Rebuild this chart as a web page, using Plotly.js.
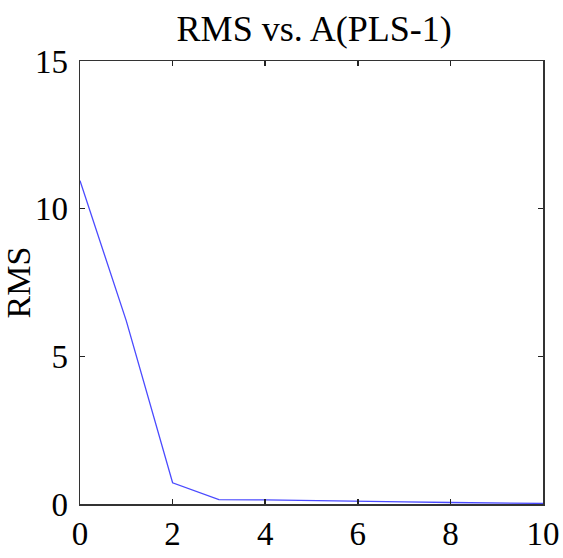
<!DOCTYPE html>
<html>
<head>
<meta charset="utf-8">
<script src="https://cdn.plot.ly/plotly-3.0.1.min.js"></script>
<style>body{margin:0;background:#fff;}</style>
</head>
<body>
<div id="chart" style="width:563px;height:558px;"></div>
<script>
// number of latent variables A vs RMS error
var comps = [0, 1, 2, 3, 4, 5, 6, 7, 8, 9, 10];
var rms = [10.95, 6.2, 0.72, 0.15, 0.14, 0.11, 0.09, 0.07, 0.05, 0.03, 0.02];
var xticks = [0, 2, 4, 6, 8, 10];
var yticks = [0, 5, 10, 15];

var trace = {
  x: comps,
  y: rms,
  type: 'scatter',
  mode: 'lines',
  line: {color: '#4a4aff', width: 1.3},
  hoverinfo: 'none'
};

var axisStyle = {
  showgrid: false,
  zeroline: false,
  showline: true,
  linecolor: '#333',
  linewidth: 1.5,
  mirror: 'ticks',
  ticks: 'inside',
  ticklen: 5,
  tickwidth: 1.5,
  tickcolor: '#222',
  tickfont: {family: 'Liberation Serif', size: 33, color: '#000'}
};

var layout = {
  width: 563,
  height: 558,
  margin: {l: 80, r: 20, t: 61, b: 54},
  paper_bgcolor: '#fff',
  plot_bgcolor: '#fff',
  showlegend: false,
  title: {
    text: 'RMS vs. A(PLS-1)',
    font: {family: 'Liberation Serif', size: 36, color: '#000'},
    x: 0.558, xanchor: 'center', y: 0.95, yanchor: 'middle'
  },
  xaxis: Object.assign({}, axisStyle, {
    range: [0, 10],
    tickvals: xticks,
    ticktext: xticks.map(String)
  }),
  yaxis: Object.assign({}, axisStyle, {
    range: [0, 15],
    tickvals: yticks,
    ticktext: yticks.map(String),
    ticklabelstandoff: 4,
    title: {text: 'RMS', font: {family: 'Liberation Serif', size: 34, color: '#000'}, standoff: 7}
  })
};

Plotly.newPlot('chart', [trace], layout, {staticPlot: true});
</script>
</body>
</html>
